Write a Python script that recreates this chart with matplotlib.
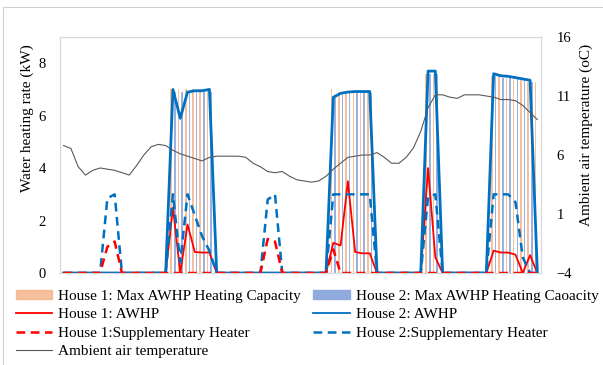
import numpy as np
import matplotlib
matplotlib.use("Agg")
import matplotlib.pyplot as plt
from matplotlib.patches import Patch, Rectangle
from matplotlib.lines import Line2D

# time steps (no x labels in the original chart)
n_steps = 66
steps = np.arange(n_steps)

ambient_temp = [6.8, 6.55, 5.0, 4.3, 4.7, 4.9, 4.8, 4.7, 4.5, 4.3,
                5.1, 6.0, 6.7, 6.9, 6.8, 6.4, 6.1, 5.9, 5.7, 5.5,
                5.8, 5.9, 5.9, 5.9, 5.9, 5.8, 5.3, 5.0, 4.6, 4.5,
                4.6, 4.2, 3.9, 3.8, 3.7, 3.8, 4.2, 4.8, 5.3, 5.8,
                5.9, 6.0, 6.0, 6.2, 5.8, 5.3, 5.3, 5.8, 6.6, 8.0,
                10.0, 11.1, 11.1, 10.9, 10.8, 11.1, 11.1, 11.1, 11.0, 10.9,
                10.7, 10.7, 10.6, 10.2, 9.6, 9.0]

h2_awhp = [0] * n_steps
for i, v in {15: 7.0, 16: 5.9, 17: 6.9, 18: 6.95, 19: 6.95, 20: 7.0,
             37: 6.7, 38: 6.85, 39: 6.9, 40: 6.92, 41: 6.92, 42: 6.92,
             50: 7.7, 51: 7.7,
             59: 7.6, 60: 7.52, 61: 7.5, 62: 7.45, 63: 7.4, 64: 7.35}.items():
    h2_awhp[i] = v

h1_awhp = [0] * n_steps
for i, v in {15: 2.5, 17: 1.85, 18: 0.8, 19: 0.78, 20: 0.78,
             37: 1.15, 38: 1.05, 39: 3.5, 40: 0.8, 41: 0.75, 42: 0.75,
             50: 4.0, 51: 0.6,
             59: 0.85, 60: 0.78, 61: 0.78, 62: 0.7, 64: 0.68}.items():
    h1_awhp[i] = v

h1_supp = [0] * n_steps
for i, v in {6: 1.0, 7: 1.2, 28: 1.3, 29: 1.2, 37: 0.9}.items():
    h1_supp[i] = v

h2_supp = [0] * n_steps
for i, v in {6: 2.85, 7: 3.0, 15: 3.0, 16: 0.4, 17: 3.0, 18: 2.2, 19: 1.4, 20: 0.85,
             28: 2.8, 29: 3.0,
             37: 3.0, 38: 3.0, 39: 3.0, 40: 3.0, 41: 3.0, 42: 3.0,
             50: 2.9, 51: 3.0,
             59: 3.0, 60: 3.0, 61: 3.0, 62: 2.7, 63: 0.6}.items():
    h2_supp[i] = v

h1_cap = [0] * n_steps
for i, v in {15: 7.0, 16: 7.0, 17: 7.0, 18: 7.0, 19: 7.0, 20: 7.0,
             37: 7.0, 38: 6.9, 39: 6.9, 40: 6.9, 41: 6.9, 42: 6.9,
             50: 7.6, 51: 7.6,
             59: 7.5, 60: 7.5, 61: 7.45, 62: 7.4, 63: 7.35, 64: 7.3, 65: 7.3}.items():
    h1_cap[i] = v

h2_cap = [0] * n_steps
for i, v in {15: 6.9, 16: 6.9, 17: 6.9, 18: 6.9, 19: 6.9, 20: 6.9,
             37: 6.8, 38: 6.8, 39: 6.85, 40: 6.85, 41: 6.85, 42: 6.85,
             50: 7.6, 51: 7.6,
             59: 7.5, 60: 7.45, 61: 7.45, 62: 7.4, 63: 7.35, 64: 7.3}.items():
    h2_cap[i] = v

left_ticks = [0, 2, 4, 6, 8]
right_ticks = [-4, 1, 6, 11, 16]

plt.rcParams['font.family'] = ['Liberation Serif', 'DejaVu Serif']

orange = '#F4B183'
blue_bar = '#8FAADC'
red = '#FF0000'
blue = '#0070C0'
gray = '#595959'
dash = (0, (3.5, 2.2))

W, H = 603, 365
fig = plt.figure(figsize=(6.03, 3.65), dpi=100)
ax = fig.add_axes([60 / W, 1 - 273 / H, 481 / W, 236 / H])
ax2 = ax.twinx()

bw = 0.22
ax.bar(steps - 0.25, h1_cap, width=bw, color=orange, alpha=0.8, zorder=1)
ax.bar(steps + 0.25, h2_cap, width=bw, color=blue_bar, alpha=0.9, zorder=1)
ax.plot(steps, h1_awhp, color=red, lw=1.3, zorder=2)
ax.plot(steps, h2_awhp, color=blue, lw=2.0, zorder=3)
ax.plot(steps, h2_supp, color=blue, lw=1.8, ls=dash, zorder=4)
ax.plot(steps, h1_supp, color=red, lw=1.8, ls=dash, zorder=5)
ax2.plot(steps, ambient_temp, color=gray, lw=0.8)

ax.set_xlim(-0.5, n_steps - 0.5)
ax.set_ylim(0, 9)
ax2.set_ylim(-4, 16)
ax.set_yticks(left_ticks)
ax2.set_yticks(right_ticks)
ax.set_xticks([])
ax.tick_params(axis='y', length=0, labelsize=10.5, pad=10)
ax2.tick_params(axis='y', length=0, labelsize=10.5, pad=11)
for a in (ax, ax2):
    for s in a.spines.values():
        s.set_color('#D9D9D9')
        s.set_linewidth(0.8)

fig.text(27 / W, 1 - 118 / H, 'Water heating rate (kW)', rotation=90,
         ha='center', va='center', fontsize=11)
fig.text(586 / W, 1 - 135 / H, 'Ambient air temperature (oC)', rotation=90,
         ha='center', va='center', fontsize=11)

handles = [
    Patch(color=orange, alpha=0.8),
    Line2D([], [], color=red, lw=1.3),
    Line2D([], [], color=red, lw=1.8, ls=dash),
    Line2D([], [], color=gray, lw=0.8),
    Patch(color=blue_bar),
    Line2D([], [], color=blue, lw=1.3),
    Line2D([], [], color=blue, lw=1.8, ls=dash),
    Line2D([], [], color='none'),
]
labels = [
    'House 1: Max AWHP Heating Capacity',
    'House 1: AWHP',
    'House 1:Supplementary Heater',
    'Ambient air temperature',
    'House 2: Max AWHP Heating Caoacity',
    'House 2: AWHP',
    'House 2:Supplementary Heater',
    '',
]
fig.legend(handles, labels, ncol=2, loc='upper left', bbox_to_anchor=(8 / W, 1 - 282 / H),
           frameon=False, fontsize=11, handlelength=2.4, handleheight=0.55,
           handletextpad=0.4, columnspacing=0.8, labelspacing=0.36, borderpad=0)

fig.add_artist(Rectangle((3.5 / W, -0.05), 1.2, (1 - 7 / H) + 0.05, transform=fig.transFigure,
                         fill=False, edgecolor='#D0D0D0', lw=0.8))

fig.savefig('out.png', dpi=100)
